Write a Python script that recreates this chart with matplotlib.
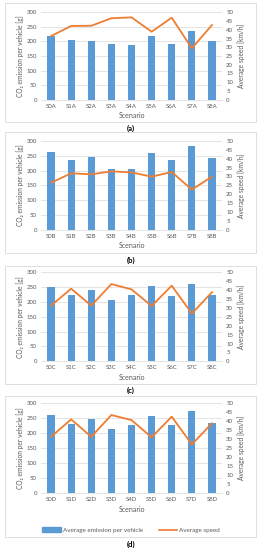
import matplotlib
matplotlib.use("Agg")
import matplotlib.pyplot as plt
from matplotlib.patches import Rectangle
from matplotlib.lines import Line2D

plt.rcParams['font.family'] = ['Lato', 'DejaVu Sans']

W, H = 263, 550

scen_a = ["S0A", "S1A", "S2A", "S3A", "S4A", "S5A", "S6A", "S7A", "S8A"]
emis_a = [219, 206, 203, 191, 188, 220, 190, 235, 203]
speed_a = [36.4, 42.2, 42.3, 46.6, 47.1, 38.9, 46.9, 29.4, 42.7]

scen_b = ["S0B", "S1B", "S2B", "S3B", "S4B", "S5B", "S6B", "S7B", "S8B"]
emis_b = [262, 235, 245, 204, 206, 258, 237, 283, 241]
speed_b = [26.5, 31.8, 31.2, 32.9, 32.3, 29.9, 32.5, 22.6, 29.9]

scen_c = ["S0C", "S1C", "S2C", "S3C", "S4C", "S5C", "S6C", "S7C", "S8C"]
emis_c = [250, 223, 242, 205, 222, 254, 221, 259, 224]
speed_c = [31.3, 40.8, 31.3, 43.4, 40.4, 31.1, 42.5, 26.8, 38.8]

scen_d = ["S0D", "S1D", "S2D", "S3D", "S4D", "S5D", "S6D", "S7D", "S8D"]
emis_d = [260, 229, 246, 214, 225, 256, 226, 274, 232]
speed_d = [31.2, 40.8, 31.2, 43.2, 40.4, 30.9, 42.3, 27.0, 38.6]

panel_labels = ["(a)", "(b)", "(c)", "(d)"]

BAR = "#5B9BD5"
LINE = "#ED7D31"
GRID = "#D9D9D9"
TXT = "#595959"

fig = plt.figure(figsize=(W / 100, H / 100), dpi=100)

def fx(x):
    return x / W

def fy(y):
    return 1 - y / H

# (axes top, axes bottom, box top, box bottom, label y)
layout = [
    (12.3, 99.7, 3, 122, 128),
    (141, 229.7, 132, 253, 260),
    (272.3, 361.3, 266, 384, 390),
    (402.7, 493.3, 396, 537, 544),
]

data = [(scen_a, emis_a, speed_a), (scen_b, emis_b, speed_b),
        (scen_c, emis_c, speed_c), (scen_d, emis_d, speed_d)]

AX_L, AX_R = 41, 222
for i, ((top, bot, btop, bbot, ly), (sc, em, sp)) in enumerate(zip(layout, data)):
    fig.patches.append(Rectangle((fx(5), fy(bbot)), fx(256 - 5), (bbot - btop) / H,
                                 transform=fig.transFigure, fill=False,
                                 edgecolor="#D9D9D9", linewidth=0.6))
    ax = fig.add_axes([fx(AX_L), fy(bot), fx(AX_R - AX_L), (bot - top) / H])
    x = list(range(len(sc)))
    ax.bar(x, em, width=0.36, color=BAR, zorder=2)
    ax.set_ylim(0, 300)
    ax.set_yticks(range(0, 301, 50))
    ax.set_xlim(-0.5, len(sc) - 0.5)
    ax.set_xticks(x)
    ax.set_xticklabels(sc)
    ax.yaxis.grid(True, color=GRID, linewidth=0.5, zorder=0)
    ax.set_axisbelow(True)
    for s in ax.spines.values():
        s.set_visible(False)
    ax.spines['bottom'].set_visible(True)
    ax.spines['bottom'].set_color(GRID)
    ax.spines['bottom'].set_linewidth(0.5)
    ax.tick_params(axis='both', length=0, labelsize=4.3, colors=TXT, pad=3)
    ax.set_xlabel("Scenario", fontsize=5, color=TXT, labelpad=2.5)
    ax.set_ylabel("CO₂ emission per vehicle [g]", fontsize=4.8, color=TXT, labelpad=1.5)

    ax2 = ax.twinx()
    ax2.plot(x, sp, color=LINE, linewidth=1.3, zorder=3)
    ax2.set_ylim(0, 50)
    ax2.set_yticks(range(0, 51, 5))
    for s in ax2.spines.values():
        s.set_visible(False)
    ax2.tick_params(axis='both', length=0, labelsize=4.3, colors=TXT, pad=3)
    ax2.set_ylabel("Average speed [km/h]", fontsize=4.8, color=TXT, labelpad=3)

    fig.text(fx(131), fy(ly), panel_labels[i], ha='center', va='center',
             fontsize=5.5, fontweight='bold', color="#000000")

    if i == 3:
        handles = [Rectangle((0, 0), 1, 1, color=BAR),
                   Line2D([0], [0], color=LINE, linewidth=1.2)]
        fig.legend(handles, ["Average emission per vehicle", "Average speed"],
                   loc='center', bbox_to_anchor=(fx(131), fy(530)),
                   ncol=2, frameon=False, fontsize=4.5, labelcolor=TXT,
                   handlelength=3, handleheight=0.8, columnspacing=2.5,
                   handletextpad=0.3)

fig.savefig("out.png", dpi=100)
